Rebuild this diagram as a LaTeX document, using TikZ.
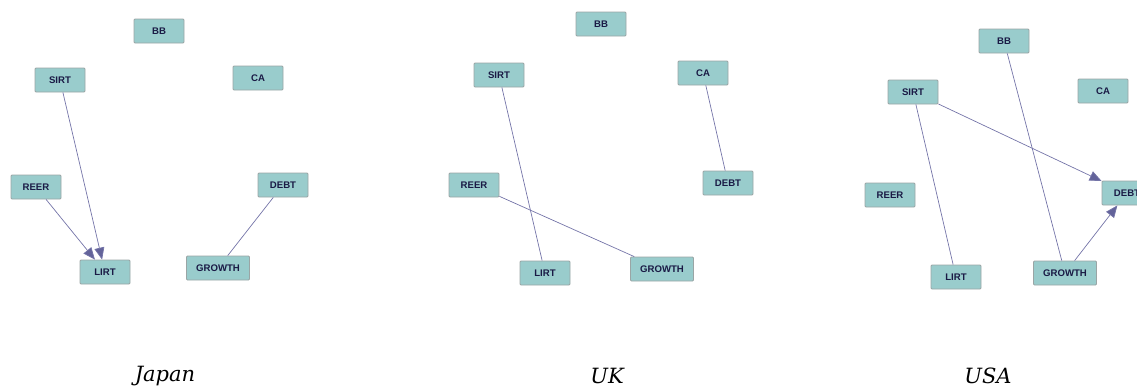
\documentclass[tikz,border=0pt]{standalone}
\usepackage{fontspec}
\newfontfamily\nodefont{Liberation Sans}
\newfontfamily\capfont{DejaVu Serif}
\usetikzlibrary{arrows.meta}
\definecolor{boxfill}{HTML}{99CCCC}
\definecolor{boxline}{HTML}{9AA5A5}
\definecolor{boxtext}{HTML}{1A1A45}
\definecolor{edgecol}{HTML}{7474A8}
\definecolor{tipcol}{HTML}{63639A}
\tikzset{
  var/.style={draw=boxline, fill=boxfill, line width=0.8pt, rounded corners=1pt,
    minimum height=24pt, minimum width=50pt, inner sep=0pt,
    font=\nodefont\bfseries\fontsize{9.6}{9.6}\selectfont, text=boxtext},
  wide/.style={minimum width=63pt},
  link/.style={draw=edgecol, line width=0.7pt},
  arc/.style={link, -{Triangle[length=12pt,width=10pt,fill=tipcol]}},
  caption/.style={font=\capfont\itshape\fontsize{21}{21}\selectfont, text=black}
}
\begin{document}
\begin{tikzpicture}[x=1pt,y=-1pt]
\useasboundingbox (0,0) rectangle (1137,389);
\clip (0,0) rectangle (1137,389);
% Japan
\node[var] (jBB) at (159,31) {BB};
\node[var] (jSIRT) at (60,80) {SIRT};
\node[var] (jCA) at (258,78) {CA};
\node[var] (jREER) at (36,187) {REER};
\node[var] (jDEBT) at (283,185) {DEBT};
\node[var] (jLIRT) at (105,272) {LIRT};
\node[var,wide] (jGROWTH) at (218,268) {GROWTH};
\draw[arc] (jSIRT) -- (jLIRT);
\draw[arc] (jREER) -- (jLIRT);
\draw[link] (jDEBT) -- (jGROWTH);
\node[caption] (capJ) at (165,376) {Japan};
% UK
\node[var] (uBB) at (601,24) {BB};
\node[var] (uSIRT) at (499,75) {SIRT};
\node[var] (uCA) at (703,73) {CA};
\node[var] (uREER) at (474,185) {REER};
\node[var] (uDEBT) at (728,183) {DEBT};
\node[var] (uLIRT) at (545,273) {LIRT};
\node[var,wide] (uGROWTH) at (662,269) {GROWTH};
\draw[link] (uSIRT) -- (uLIRT);
\draw[link] (uREER) -- (uGROWTH);
\draw[link] (uCA) -- (uDEBT);
\node[caption] (capU) at (607,376) {UK};
% USA
\node[var] (sBB) at (1004,41) {BB};
\node[var] (sSIRT) at (913,92) {SIRT};
\node[var] (sCA) at (1103,91) {CA};
\node[var] (sREER) at (890,195) {REER};
\node[var] (sDEBT) at (1127,193) {DEBT};
\node[var] (sLIRT) at (956,277) {LIRT};
\node[var,wide] (sGROWTH) at (1065,273) {GROWTH};
\draw[arc] (sSIRT) -- (sDEBT);
\draw[link] (sBB) -- (sGROWTH);
\draw[link] (sSIRT) -- (sLIRT);
\draw[arc] (sGROWTH) -- (sDEBT);
\node[caption] (capS) at (988,376) {USA};
\end{tikzpicture}
\end{document}
